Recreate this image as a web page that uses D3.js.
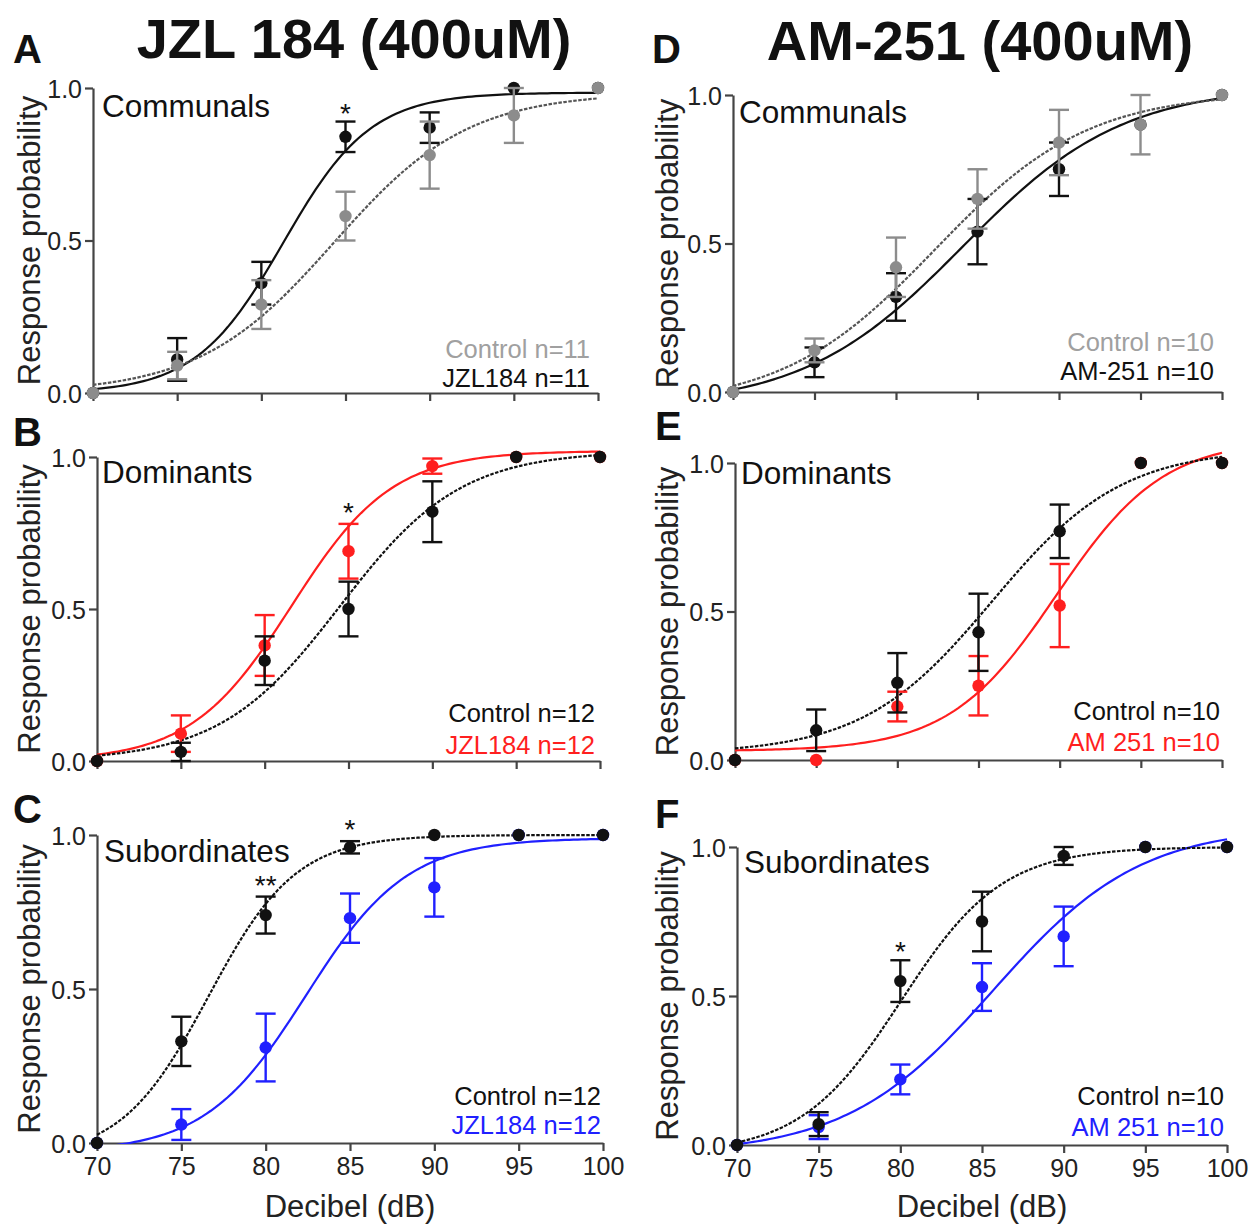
<!DOCTYPE html>
<html><head><meta charset="utf-8">
<script src="https://cdn.jsdelivr.net/npm/d3@7"></script>
<style>body{margin:0;background:#fff}svg{display:block}text{font-family:"Liberation Sans",Arial,sans-serif}</style>
</head><body>
<svg id="c" width="1256" height="1226"></svg>
<script>
// ---------- DATA ----------
const decibels = [70, 75, 80, 85, 90, 95, 100];
const xTicks = [70, 75, 80, 85, 90, 95, 100];
const yTicks = [0, 0.5, 1.0];

// A: JZL184 Communals
const A_ctrl = [0, 0.09, 0.29, 0.58, 0.78, 0.91, 1.0];
const A_ctrlErr = [0, 0.045, 0.08, 0.08, 0.11, 0.09, 0];
const A_drug = [0, 0.11, 0.36, 0.84, 0.87, 1.0, 1.0];
const A_drugErr = [0, 0.07, 0.07, 0.05, 0.05, 0, 0];
// B: JZL184 Dominants
const B_ctrl = [0, 0.03, 0.33, 0.50, 0.82, 1.0, 1.0];
const B_ctrlErr = [0, 0.03, 0.08, 0.09, 0.10, 0, 0];
const B_drug = [0, 0.09, 0.38, 0.69, 0.97, 1.0, 1.0];
const B_drugErr = [0, 0.06, 0.10, 0.09, 0.025, 0, 0];
// C: JZL184 Subordinates
const C_ctrl = [0, 0.33, 0.74, 0.96, 1.0, 1.0, 1.0];
const C_ctrlErr = [0, 0.08, 0.06, 0.02, 0, 0, 0];
const C_drug = [0, 0.06, 0.31, 0.73, 0.83, 1.0, 1.0];
const C_drugErr = [0, 0.05, 0.11, 0.08, 0.095, 0, 0];
// D: AM-251 Communals
const D_ctrl = [0, 0.14, 0.42, 0.65, 0.84, 0.90, 1.0];
const D_ctrlErr = [0, 0.04, 0.10, 0.10, 0.11, 0.10, 0];
const D_drug = [0, 0.10, 0.32, 0.54, 0.75, 0.90, 1.0];
const D_drugErr = [0, 0.05, 0.08, 0.11, 0.09, 0, 0];
// E: AM-251 Dominants
const E_ctrl = [0, 0.10, 0.26, 0.43, 0.77, 1.0, 1.0];
const E_ctrlErr = [0, 0.07, 0.10, 0.13, 0.09, 0, 0];
const E_drug = [0, 0.0, 0.18, 0.25, 0.52, 1.0, 1.0];
const E_drugErr = [0, 0, 0.05, 0.10, 0.14, 0, 0];
// F: AM-251 Subordinates
const F_ctrl = [0, 0.07, 0.55, 0.75, 0.97, 1.0, 1.0];
const F_ctrlErr = [0, 0.04, 0.07, 0.10, 0.03, 0, 0];
const F_drug = [0, 0.06, 0.22, 0.53, 0.70, 1.0, 1.0];
const F_drugErr = [0, 0.04, 0.05, 0.08, 0.10, 0, 0];

// Sigmoid fit parameters [bottom, top, x50, slope]
const A_ctrlFit = [0, 0.985, 84.3, 4.0];
const A_drugFit = [0, 0.985, 81.3, 2.6];
const B_ctrlFit = [0, 1.02, 84.5, 3.6];
const B_drugFit = [0, 1.02, 81.6, 3.0];
const C_ctrlFit = [-0.05, 1.0, 76.6, 2.6];
const C_drugFit = [-0.03, 0.99, 82.4, 3.0];
const D_ctrlFit = [-0.05, 1.01, 82.4, 4.7];
const D_drugFit = [-0.05, 1.03, 84.1, 4.9];
const E_ctrlFit = [0.02, 1.05, 85.85, 4.0];
const E_drugFit = [0.03, 1.08, 89.8, 3.3];
const F_ctrlFit = [-0.03, 1.0, 80.06, 3.1];
const F_drugFit = [-0.03, 1.07, 85.7, 4.5];

const headings = ["JZL 184 (400uM)", "AM-251 (400uM)"];
const groupNames = ["Communals", "Dominants", "Subordinates", "Communals", "Dominants", "Subordinates"];
const panelLetters = ["A", "B", "C", "D", "E", "F"];
const legendCtrl = ["Control n=11", "Control n=12", "Control n=12", "Control n=10", "Control n=10", "Control n=10"];
const legendDrug = ["JZL184 n=11", "JZL184 n=12", "JZL184 n=12", "AM-251 n=10", "AM 251 n=10", "AM 251 n=10"];
const stars = [[{x:85,y:0.89,t:"*"}],[{x:85,y:0.79,t:"*"}],[{x:80,y:0.81,t:"**"},{x:85,y:0.99,t:"*"}],[],[],[{x:80,y:0.62,t:"*"}]];

// ---------- LAYOUT ----------
const GRAY = "#8c8c8c", BLACK = "#111", RED = "#ff1f1f", BLUE = "#2020ff", DASHGRAY = "#555";
const panels = [
  {x0:93, x1:598, yT:88, yB:393, ctrl:A_ctrl, ce:A_ctrlErr, drug:A_drug, de:A_drugErr, cf:A_ctrlFit, df:A_drugFit, cc:GRAY, dc:BLACK, ccl:DASHGRAY, lcc:"#a0a0a0", lx:590, ly:[358,387], tx:102, ty:117, lL:[13,63], xl:false, yl:30},
  {x0:97, x1:600, yT:457, yB:761, ctrl:B_ctrl, ce:B_ctrlErr, drug:B_drug, de:B_drugErr, cf:B_ctrlFit, df:B_drugFit, cc:BLACK, dc:RED, ccl:BLACK, lcc:BLACK, lx:595, ly:[722,754], tx:102, ty:483, lL:[13,446], xl:false, yl:30},
  {x0:97, x1:603, yT:835, yB:1143, ctrl:C_ctrl, ce:C_ctrlErr, drug:C_drug, de:C_drugErr, cf:C_ctrlFit, df:C_drugFit, cc:BLACK, dc:BLUE, ccl:BLACK, lcc:BLACK, lx:601, ly:[1105,1134], tx:104, ty:862, lL:[13,823], xl:true, yl:30},
  {x0:733, x1:1222, yT:95, yB:392, ctrl:D_ctrl, ce:D_ctrlErr, drug:D_drug, de:D_drugErr, cf:D_ctrlFit, df:D_drugFit, cc:GRAY, dc:BLACK, ccl:DASHGRAY, lcc:"#a0a0a0", lx:1214, ly:[351,380], tx:739, ty:123, lL:[652,63], xl:false, yl:668},
  {x0:735, x1:1222, yT:463, yB:760, ctrl:E_ctrl, ce:E_ctrlErr, drug:E_drug, de:E_drugErr, cf:E_ctrlFit, df:E_drugFit, cc:BLACK, dc:RED, ccl:BLACK, lcc:BLACK, lx:1220, ly:[720,751], tx:741, ty:484, lL:[655,440], xl:false, yl:668},
  {x0:737, x1:1227, yT:847, yB:1145, ctrl:F_ctrl, ce:F_ctrlErr, drug:F_drug, de:F_drugErr, cf:F_ctrlFit, df:F_drugFit, cc:BLACK, dc:BLUE, ccl:BLACK, lcc:BLACK, lx:1224, ly:[1105,1136], tx:744, ty:873, lL:[655,828], xl:true, yl:668}
];

const svg = d3.select("#c");
svg.append("text").attr("x",354).attr("y",58).attr("text-anchor","middle").attr("font-size",56).attr("font-weight","bold").attr("fill","#111").text(headings[0]);
svg.append("text").attr("x",980).attr("y",60).attr("text-anchor","middle").attr("font-size",56).attr("font-weight","bold").attr("fill","#111").text(headings[1]);

function sig(p, x){ return p[0] + (p[1]-p[0])/(1+Math.exp((p[2]-x)/p[3])); }
const samples = d3.range(70, 100.001, 0.25);

panels.forEach((P, i) => {
  const g = svg.append("g");
  const x = d3.scaleLinear().domain([70,100]).range([P.x0, P.x1]);
  const y = d3.scaleLinear().domain([0,1]).range([P.yB, P.yT]);

  // axes
  const xa = g.append("g").attr("transform",`translate(0,${P.yB})`)
    .call(d3.axisBottom(x).tickValues(xTicks).tickSize(8).tickSizeOuter(0).tickPadding(4).tickFormat(P.xl ? d3.format("d") : () => ""));
  const ya = g.append("g").attr("transform",`translate(${P.x0},0)`)
    .call(d3.axisLeft(y).tickValues(yTicks).tickSize(8).tickSizeOuter(0).tickPadding(3).tickFormat(d3.format(".1f")));
  [xa, ya].forEach(a => {
    a.select(".domain").attr("stroke","#444").attr("stroke-width",2.2);
    a.selectAll(".tick line").attr("stroke","#444").attr("stroke-width",2.2);
    a.selectAll(".tick text").attr("font-size",25).attr("fill","#222").attr("font-family","'Liberation Sans',Arial,sans-serif");
  });
  ya.selectAll(".tick text").attr("dy","0.36em");
  if (P.xl) {
    xa.selectAll(".tick text").attr("dy","0.8em");
    g.append("text").attr("x",(P.x0+P.x1)/2).attr("y",1217).attr("text-anchor","middle").attr("font-size",31).attr("fill","#222").text("Decibel (dB)");
  }

  // y label
  g.append("text").attr("transform",`translate(${P.yl+10},${(P.yT+P.yB)/2}) rotate(-90)`).attr("text-anchor","middle").attr("font-size",31).attr("fill","#222").text("Response probability");
  // letter
  g.append("text").attr("x",P.lL[0]).attr("y",P.lL[1]).attr("font-size",40).attr("font-weight","bold").attr("fill","#111").text(panelLetters[i]);
  // group name
  g.append("text").attr("x",P.tx).attr("y",P.ty).attr("font-size",31.5).attr("fill","#111").text(groupNames[i]);
  // legend
  g.append("text").attr("x",P.lx).attr("y",P.ly[0]).attr("text-anchor","end").attr("font-size",25.5).attr("fill",P.lcc).text(legendCtrl[i]);
  g.append("text").attr("x",P.lx).attr("y",P.ly[1]).attr("text-anchor","end").attr("font-size",25.5).attr("fill",P.dc).text(legendDrug[i]);

  // clip for curves
  const cid = "clip"+i;
  svg.append("clipPath").attr("id",cid).append("rect").attr("x",P.x0-2).attr("y",P.yT-40).attr("width",P.x1-P.x0+10).attr("height",P.yB-P.yT+41);
  const line = d3.line().x(d => x(d[0])).y(d => y(d[1])).curve(d3.curveLinear);
  const cg = g.append("g").attr("clip-path",`url(#${cid})`);
  cg.append("path").attr("d", line(samples.map(v => [v, sig(P.df, v)]))).attr("fill","none").attr("stroke",P.dc).attr("stroke-width",2.2);
  cg.append("path").attr("d", line(samples.map(v => [v, sig(P.cf, v)]))).attr("fill","none").attr("stroke",P.ccl).attr("stroke-width",2.2).attr("stroke-dasharray","3.5,1.5");

  function series(vals, errs, col) {
    const s = g.append("g");
    decibels.forEach((d, k) => {
      const v = vals[k], e = errs[k];
      if (v == null) return;
      if (e > 0) {
        const cx = x(d), yt = y(v+e), yb = y(v-e);
        s.append("line").attr("x1",cx).attr("x2",cx).attr("y1",yt).attr("y2",yb).attr("stroke",col).attr("stroke-width",2.4);
        [yt, yb].forEach(yy => s.append("line").attr("x1",cx-10).attr("x2",cx+10).attr("y1",yy).attr("y2",yy).attr("stroke",col).attr("stroke-width",2.4));
      }
      s.append("circle").attr("cx",x(d)).attr("cy",y(v)).attr("r",6.2).attr("fill",col);
    });
  }
  series(P.drug, P.de, P.dc);
  series(P.ctrl, P.ce, P.cc);

  stars[i].forEach(st => {
    g.append("text").attr("x",x(st.x)).attr("y",y(st.y)+1).attr("text-anchor","middle").attr("font-size",28).attr("fill","#111").text(st.t);
  });
});
</script>
</body></html>
